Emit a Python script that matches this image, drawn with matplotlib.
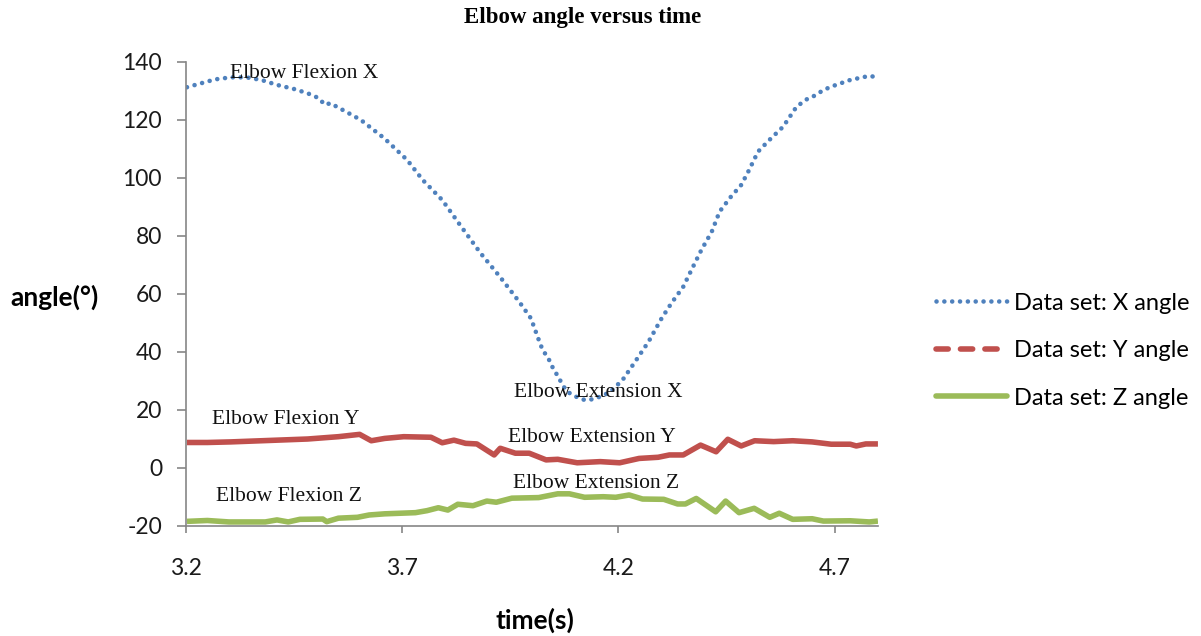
import matplotlib
matplotlib.use('Agg')
import matplotlib.pyplot as plt
from matplotlib.lines import Line2D
import numpy as np

# X angle (blue, dotted)
tx = [3.203, 3.268, 3.304, 3.34, 3.375, 3.411, 3.45, 3.482, 3.505, 3.523, 3.534, 3.57, 3.605,
      3.659, 3.712, 3.748, 3.793, 3.837, 3.882, 3.926, 3.971, 3.998, 4.016, 4.025, 4.038,
      4.047, 4.056, 4.069, 4.078, 4.09, 4.105, 4.123, 4.14, 4.158, 4.18, 4.21, 4.239, 4.27,
      4.30, 4.323, 4.35, 4.371, 4.392, 4.416, 4.434, 4.46, 4.484, 4.50, 4.523, 4.549, 4.581,
      4.594, 4.612, 4.635, 4.648, 4.674, 4.692, 4.736, 4.78, 4.80]
vx = [131.2, 133.9, 134.6, 134.6, 133.7, 132.0, 130.6, 129.1, 127.6, 125.1, 125.7, 122.8, 119.9,
      113.6, 106.1, 99.2, 92.3, 83.1, 73.9, 65.9, 57.2, 51.5, 44.1, 40.6, 37.8,
      34.9, 32.6, 29.2, 26.9, 25.4, 24.3, 23.3, 23.6, 24.5, 26.0, 30.3, 36.6, 43.5,
      51.5, 56.8, 62.4, 68.8, 75.1, 81.4, 88.3, 93.4, 97.5, 102.0, 109.0, 113.0, 117.6,
      120.5, 124.5, 127.0, 127.8, 130.2, 131.4, 133.7, 135.1, 134.6]

# Y angle (red)
ty = [3.203, 3.25, 3.304, 3.393, 3.482, 3.553, 3.602, 3.629, 3.66, 3.704, 3.767, 3.793, 3.82,
      3.847, 3.873, 3.913, 3.927, 3.962, 3.994, 4.033, 4.06, 4.105, 4.158, 4.203, 4.248,
      4.292, 4.318, 4.35, 4.39, 4.426, 4.453, 4.484, 4.515, 4.559, 4.603, 4.648, 4.692,
      4.736, 4.75, 4.772, 4.80]
vy = [8.7, 8.7, 8.9, 9.4, 9.9, 10.7, 11.5, 9.3, 10.1, 10.7, 10.5, 8.6, 9.5,
      8.4, 8.2, 4.4, 6.7, 5.0, 5.0, 2.7, 2.9, 1.7, 2.1, 1.7, 3.2,
      3.6, 4.4, 4.4, 7.8, 5.5, 9.8, 7.5, 9.3, 9.0, 9.3, 8.9, 8.1,
      8.1, 7.5, 8.2, 8.2]

# Z angle (green)
tz = [3.203, 3.25, 3.30, 3.384, 3.411, 3.437, 3.464, 3.517, 3.526, 3.553, 3.597, 3.624, 3.66,
      3.731, 3.758, 3.784, 3.806, 3.829, 3.864, 3.896, 3.918, 3.954, 4.016, 4.06, 4.087,
      4.122, 4.165, 4.194, 4.225, 4.256, 4.305, 4.337, 4.355, 4.38, 4.425, 4.448, 4.479,
      4.514, 4.55, 4.572, 4.603, 4.648, 4.674, 4.736, 4.78, 4.80]
vz = [-18.5, -18.2, -18.7, -18.7, -18.0, -18.7, -17.8, -17.7, -18.6, -17.4, -17.1, -16.3, -15.9,
      -15.5, -14.8, -13.8, -14.6, -12.6, -13.1, -11.5, -11.9, -10.5, -10.3, -9.0, -9.0,
      -10.2, -10.0, -10.2, -9.4, -10.8, -10.9, -12.5, -12.5, -10.6, -15.2, -11.5, -15.5,
      -14.0, -17.1, -15.7, -17.8, -17.6, -18.4, -18.3, -18.7, -18.4]

# annotation texts and where they sit (time, angle)
notes = ["Elbow Flexion X", "Elbow Flexion Y", "Elbow Flexion Z",
         "Elbow Extension X", "Elbow Extension Y", "Elbow Extension Z"]
note_t = [3.303, 3.260, 3.270, 3.958, 3.944, 3.957]
note_v = [136.1, 16.7, -9.8, 25.8, 10.3, -5.3]

legend_labels = ["Data set: X angle", "Data set: Y angle", "Data set: Z angle"]
xticks = [3.2, 3.7, 4.2, 4.7]
yticks = [-20, 0, 20, 40, 60, 80, 100, 120, 140]

blue, red, green = "#4F81BD", "#C0504D", "#9BBB59"
axis_grey = "#868686"
sans = "Lato"
serif = "Liberation Serif"
dots = (0, (0.01, 1.7))

fig = plt.figure(figsize=(12.01, 6.36), dpi=100)
ax = fig.add_axes([0.1546, 0.1734, 0.5764, 0.7296])

ax.plot(tx, vx, color=blue, lw=3.3, linestyle=dots, dash_capstyle='round')
ax.plot(ty, vy, color=red, lw=4.0, solid_joinstyle='round', solid_capstyle='butt')
ax.plot(tz, vz, color=green, lw=4.0, solid_joinstyle='round', solid_capstyle='butt')

for txt, t, v in zip(notes, note_t, note_v):
    ax.text(t, v, txt, fontsize=15.5, family=serif, ha='left', va='center', color='#111111')

ax.set_xlim(3.2, 4.8)
ax.set_ylim(-20, 140)
ax.set_xticks(xticks)
ax.set_yticks(yticks)
ax.set_xticklabels([str(x) for x in xticks])
ax.set_yticklabels([str(y) for y in yticks])

for s in ["top", "right"]:
    ax.spines[s].set_visible(False)
for s in ["left", "bottom"]:
    ax.spines[s].set_color(axis_grey)
    ax.spines[s].set_linewidth(1.2)
ax.tick_params(axis='y', length=6.5, width=1.2, color=axis_grey, pad=10.5,
               labelsize=16.5, labelcolor='#1a1a1a')
ax.tick_params(axis='x', length=5, width=1.2, color=axis_grey, pad=18,
               labelsize=16.5, labelcolor='#1a1a1a')
for lab in ax.get_xticklabels() + ax.get_yticklabels():
    lab.set_family(sans)

fig.text(583 / 1201, 1 - 18 / 636, "Elbow angle versus time", family=serif,
         fontweight='bold', fontsize=16.5, ha='center', va='center')
fig.text(10 / 1201, 1 - 297 / 636, "angle(°)", family=sans, fontweight='bold',
         fontsize=19, ha='left', va='center')
fig.text(535 / 1201, 1 - 620 / 636, "time(s)", family=sans, fontweight='bold',
         fontsize=19, ha='center', va='center')

handles = [Line2D([], [], color=blue, lw=3.3, linestyle=dots, dash_capstyle='round'),
           Line2D([], [], color=red, lw=4.0, linestyle=(0, (2.2, 2.2)), dash_capstyle='round'),
           Line2D([], [], color=green, lw=4.0, solid_capstyle='round')]
fig.legend(handles, legend_labels, loc='center left',
           bbox_to_anchor=(936 / 1201, 1 - 350.7 / 636), frameon=False,
           prop={'family': sans, 'size': 17}, handlelength=3.0, handletextpad=0.3,
           labelspacing=1.12, borderpad=0, borderaxespad=0)

fig.savefig("out.png", dpi=100)
